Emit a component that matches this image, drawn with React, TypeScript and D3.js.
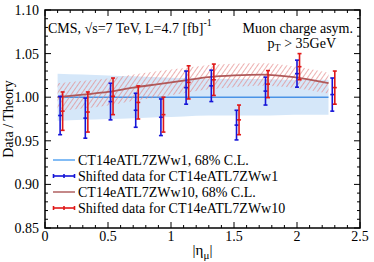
import React from "react";
import * as d3 from "d3";

// bin centres and shifted data positions
const etaBins = [0.1, 0.3, 0.5, 0.7, 0.9, 1.1, 1.3, 1.5, 1.725, 1.975, 2.25];
const etaBlue = [0.12, 0.32, 0.52, 0.72, 0.92, 1.12, 1.32, 1.52, 1.75, 2.0, 2.28];
const etaRed = [0.14, 0.34, 0.54, 0.74, 0.94, 1.14, 1.34, 1.54, 1.77, 2.02, 2.30];

const blueData = [0.979, 0.976, 0.995, 0.985, 0.977, 1.011, 1.013, 0.968, 1.007, 1.027, 1.003];
const blueErr = [0.022, 0.023, 0.021, 0.0195, 0.021, 0.019, 0.018, 0.017, 0.016, 0.0155, 0.019];
const redData = [0.984, 0.983, 1.001, 0.994, 0.980, 1.017, 1.020, 0.974, 1.015, 1.035, 1.011];
const redErr = [0.022, 0.023, 0.021, 0.019, 0.020, 0.019, 0.018, 0.017, 0.0155, 0.015, 0.019];

const bandW1 = [0.027, 0.026, 0.025, 0.024, 0.023, 0.022, 0.021, 0.021, 0.021, 0.02, 0.02];
const centW10 = [1.0, 1.003, 1.006, 1.011, 1.015, 1.019, 1.023, 1.025, 1.026, 1.023, 1.016];
const bandW10 = [0.016, 0.016, 0.0155, 0.015, 0.015, 0.0145, 0.014, 0.0135, 0.013, 0.0125, 0.012];

const xTicks = [0, 0.5, 1, 1.5, 2, 2.5];
const yTicks = [0.85, 0.9, 0.95, 1.0, 1.05, 1.1];

const legendItems = [
  "CT14eATL7ZWw1, 68% C.L.",
  "Shifted data for CT14eATL7ZWw1",
  "CT14eATL7ZWw10, 68% C.L.",
  "Shifted data for CT14eATL7ZWw10",
];

const W = 374, H = 262;
const L = 45, R = 360, T = 10, B = 228;
const font = "'Liberation Serif', 'Times New Roman', serif";

export default function App() {
  const x = d3.scaleLinear().domain([0, 2.5]).range([L, R]);
  const y = d3.scaleLinear().domain([0.85, 1.1]).range([B, T]);

  const band1 = d3.area<number>()
    .x((d, i) => x(etaBins[i]))
    .y0((d, i) => y(1 - bandW1[i]))
    .y1((d, i) => y(1 + bandW1[i]))
    .curve(d3.curveMonotoneX)(etaBins);
  const band10 = d3.area<number>()
    .x((d, i) => x(etaBins[i]))
    .y0((d, i) => y(centW10[i] - bandW10[i]))
    .y1((d, i) => y(centW10[i] + bandW10[i]))
    .curve(d3.curveMonotoneX)(etaBins);
  const line10 = d3.line<number>()
    .x((d, i) => x(etaBins[i]))
    .y((d) => y(d))
    .curve(d3.curveMonotoneX)(centW10);

  const minorX = d3.range(0, 2.501, 0.1);
  const minorY = d3.range(0.85, 1.1001, 0.01);

  const errBars = (xs: number[], vals: number[], errs: number[], color: string) =>
    vals.map((v, i) => {
      const cx = x(xs[i]);
      return (
        <g key={color + i} stroke={color} strokeWidth={1.6}>
          <line x1={cx} x2={cx} y1={y(v - errs[i])} y2={y(v + errs[i])} />
          <line x1={cx - 2} x2={cx + 2} y1={y(v - errs[i])} y2={y(v - errs[i])} />
          <line x1={cx - 2} x2={cx + 2} y1={y(v + errs[i])} y2={y(v + errs[i])} />
          <line x1={cx - 2} x2={cx + 2} y1={y(v)} y2={y(v)} />
        </g>
      );
    });

  const legY = [164, 180, 196, 212];

  return (
    <svg width={W} height={H} style={{ position: "absolute", left: 0, top: 0 }} fontFamily={font}>
      <defs>
        <pattern id="hatch" width="4" height="4" patternUnits="userSpaceOnUse" patternTransform="rotate(35)">
          <line x1="0" y1="0" x2="0" y2="4" stroke="#e48585" strokeWidth="1.3" />
        </pattern>
      </defs>
      <rect width={W} height={H} fill="#fff" />
      <path d={band1 || ""} fill="#d5e7f9" />
      <line x1={x(etaBins[0])} x2={x(etaBins[etaBins.length - 1])} y1={y(1)} y2={y(1)} stroke="#4a93e6" strokeWidth={1.5} />
      <path d={band10 || ""} fill="url(#hatch)" />
      <path d={line10 || ""} fill="none" stroke="#b05858" strokeWidth={1.8} />
      {errBars(etaBlue, blueData, blueErr, "#1515d8")}
      {errBars(etaRed, redData, redErr, "#e01818")}

      {/* frame and ticks */}
      <rect x={L} y={T} width={R - L} height={B - T} fill="none" stroke="#000" strokeWidth={1.5} />
      {minorX.map((t, i) => {
        const major = Math.abs(t * 2 - Math.round(t * 2)) < 1e-6;
        const len = major ? 6 : 3;
        return (
          <g key={"mx" + i} stroke="#000" strokeWidth={1}>
            <line x1={x(t)} x2={x(t)} y1={B} y2={B - len} />
            <line x1={x(t)} x2={x(t)} y1={T} y2={T + len} />
          </g>
        );
      })}
      {minorY.map((t, i) => {
        const major = Math.abs(t * 20 - Math.round(t * 20)) < 1e-6;
        const len = major ? 6 : 3;
        return (
          <g key={"my" + i} stroke="#000" strokeWidth={1}>
            <line x1={L} x2={L + len} y1={y(t)} y2={y(t)} />
            <line x1={R} x2={R - len} y1={y(t)} y2={y(t)} />
          </g>
        );
      })}
      {xTicks.map((t) => (
        <text key={"xt" + t} x={x(t)} y={241} textAnchor="middle" fontSize={14}>{String(t)}</text>
      ))}
      {yTicks.map((t) => (
        <text key={"yt" + t} x={39} y={y(t) + 5} textAnchor="end" fontSize={14}>{t.toFixed(2)}</text>
      ))}
      <text x={(L + R) / 2} y={255} textAnchor="middle" fontSize={15}>
        |η<tspan dy={4} fontSize={11}>μ</tspan><tspan dy={-4}>|</tspan>
      </text>
      <text transform={`translate(13,${(T + B) / 2}) rotate(-90)`} textAnchor="middle" fontSize={14}>Data / Theory</text>

      <text x={48} y={33} fontSize={14}>
        CMS, √s=7 TeV, L=4.7 [fb]<tspan dy={-7} fontSize={10}>-1</tspan>
      </text>
      <text x={353} y={33} textAnchor="end" fontSize={14}>Muon charge asym.</text>
      <text x={336} y={48} textAnchor="end" fontSize={14}>
        p<tspan dy={3} fontSize={10}>T</tspan><tspan dy={-3}> &gt; 35GeV</tspan>
      </text>

      {/* legend */}
      <line x1={53} x2={75} y1={legY[0] - 4} y2={legY[0] - 4} stroke="#5aa6f2" strokeWidth={1.5} />
      <g stroke="#1515d8" strokeWidth={1.6}>
        <line x1={53} x2={75} y1={legY[1] - 4} y2={legY[1] - 4} />
        <line x1={53.5} x2={53.5} y1={legY[1] - 6} y2={legY[1] - 2} />
        <line x1={74.5} x2={74.5} y1={legY[1] - 6} y2={legY[1] - 2} />
        <line x1={64} x2={64} y1={legY[1] - 6} y2={legY[1] - 2} />
      </g>
      <line x1={53} x2={75} y1={legY[2] - 4} y2={legY[2] - 4} stroke="#b06060" strokeWidth={1.5} />
      <g stroke="#e01818" strokeWidth={1.6}>
        <line x1={53} x2={75} y1={legY[3] - 4} y2={legY[3] - 4} />
        <line x1={53.5} x2={53.5} y1={legY[3] - 6} y2={legY[3] - 2} />
        <line x1={74.5} x2={74.5} y1={legY[3] - 6} y2={legY[3] - 2} />
        <line x1={64} x2={64} y1={legY[3] - 6} y2={legY[3] - 2} />
      </g>
      {legendItems.map((s, i) => (
        <text key={s} x={78} y={legY[i] + 1} fontSize={14}>{s}</text>
      ))}
    </svg>
  );
}
